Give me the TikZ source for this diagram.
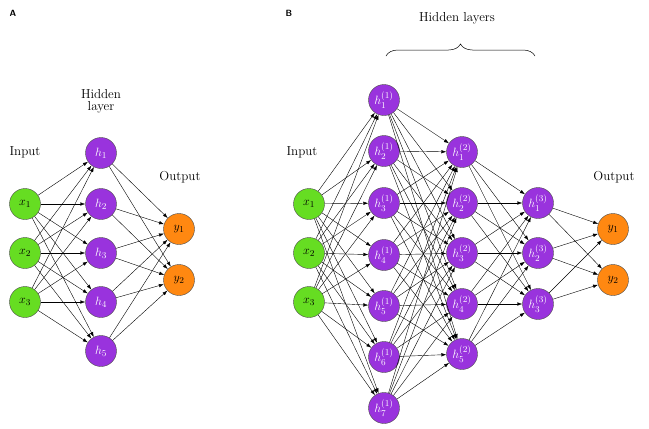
\documentclass[tikz,border=0pt]{standalone}
\usetikzlibrary{arrows.meta,decorations.pathreplacing}
\begin{document}
\begin{tikzpicture}[x=1pt,y=-1pt,
 nd/.style={circle,draw=black!70,line width=0.4pt,minimum size=31pt,inner sep=0pt,font=\fontsize{13}{13}\selectfont},
 inp/.style={nd,fill=green!80!black!80!lime},
 hid/.style={nd,fill=violet!70!magenta!90!white,text=white},
 outp/.style={nd,fill=orange!90!red!90!yellow},
 ar/.style={-{Latex[length=5pt,width=3.5pt]},line width=0.4pt},
 lbl/.style={font=\fontsize{13}{15}\selectfont,align=center},
 pan/.style={font=\sffamily\bfseries\small}]
\useasboundingbox (0,0) rectangle (649,429);
\colorlet{gr}{green!75!black}
\tikzset{inp/.style={nd,fill={rgb,255:red,102;green,221;blue,34}},
 hid/.style={nd,fill={rgb,255:red,153;green,51;blue,221},text=white},
 outp/.style={nd,fill={rgb,255:red,255;green,136;blue,17}}}
% Panel A
\node[pan] (A) at (13,13) {A};
\foreach \i/\y in {1/204,2/253,3/302} \node[inp] (ax\i) at (25,\y) {$x_\i$};
\foreach \i/\y in {1/153,2/204,3/253,4/302,5/351} \node[hid] (ah\i) at (101,\y) {$h_\i$};
\foreach \i/\y in {1/229,2/280} \node[outp] (ay\i) at (179,\y) {$y_\i$};
\foreach \i in {1,2,3} \foreach \j in {1,...,5} \draw[ar] (ax\i) -- (ah\j);
\foreach \i in {1,...,5} \foreach \j in {1,2} \draw[ar] (ah\i) -- (ay\j);
\node[lbl] (ahl) at (101,101) {Hidden\\[-3pt]layer};
\node[lbl] (ain) at (25,152) {Input};
\node[lbl] (aout) at (180,177) {Output};
% Panel B
\node[pan] (B) at (289,13) {B};
\foreach \i/\y in {1/204,2/253,3/302} \node[inp] (bx\i) at (309,\y) {$x_\i$};
\foreach \i/\y in {1/100,2/151,3/203,4/255,5/306,6/357,7/408} \node[hid] (b1\i) at (384,\y) {$h^{(1)}_\i$};
\foreach \i/\y in {1/152,2/203,3/253,4/304,5/354} \node[hid] (b2\i) at (462,\y) {$h^{(2)}_\i$};
\foreach \i/\y in {1/203,2/253,3/304} \node[hid] (b3\i) at (538,\y) {$h^{(3)}_\i$};
\foreach \i/\y in {1/229,2/280} \node[outp] (by\i) at (613,\y) {$y_\i$};
\foreach \i in {1,2,3} \foreach \j in {1,...,7} \draw[ar] (bx\i) -- (b1\j);
\foreach \i in {1,...,7} \foreach \j in {1,...,5} \draw[ar] (b1\i) -- (b2\j);
\foreach \i in {1,...,5} \foreach \j in {1,2,3} \draw[ar] (b2\i) -- (b3\j);
\foreach \i in {1,2,3} \foreach \j in {1,2} \draw[ar] (b3\i) -- (by\j);
\node[lbl] (bin) at (302,152) {Input};
\node[lbl] (bout) at (614,177) {Output};
\node[lbl] (bhl) at (457,18) {Hidden layers};
\coordinate (br1) at (386,56);
\coordinate (br2) at (535,56);
\draw[decorate,decoration={brace,amplitude=12pt},line width=0.5pt] (br1) -- (br2);
\end{tikzpicture}
\end{document}
